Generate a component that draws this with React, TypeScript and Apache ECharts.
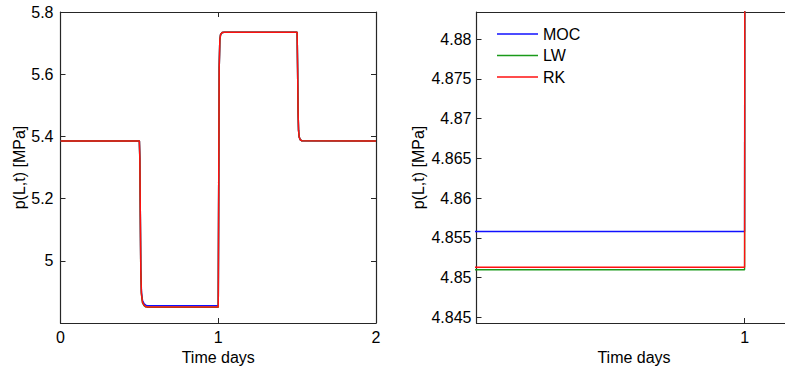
import React, { useEffect, useRef } from "react";
import * as echarts from "echarts";

// Time in days, shared by all three schemes
const time = [
  0, 0.5, 0.503, 0.506, 0.509, 0.513, 0.52, 0.53, 0.54, 0.55,
  1.0, 1.003, 1.006, 1.01, 1.015, 1.025, 1.04,
  1.5, 1.503, 1.506, 1.509, 1.513, 1.52, 1.53, 2.0,
];

// Outlet pressure p(L,t) in MPa
const moc = [
  5.385, 5.385, 5.33, 5.15, 4.975, 4.9, 4.872, 4.862, 4.8575, 4.8558,
  4.8558, 5.25, 5.62, 5.71, 5.728, 5.734, 5.735,
  5.735, 5.62, 5.48, 5.42, 5.398, 5.389, 5.386, 5.385,
];
const lw = [
  5.385, 5.385, 5.32, 5.14, 4.968, 4.893, 4.865, 4.856, 4.852, 4.851,
  4.851, 5.25, 5.62, 5.71, 5.728, 5.734, 5.735,
  5.735, 5.62, 5.48, 5.42, 5.398, 5.389, 5.386, 5.385,
];
const rk = [
  5.385, 5.385, 5.33, 5.15, 4.97, 4.894, 4.866, 4.857, 4.8525, 4.8513,
  4.8513, 5.25, 5.62, 5.71, 5.728, 5.734, 5.735,
  5.735, 5.62, 5.48, 5.42, 5.398, 5.389, 5.386, 5.385,
];

const seriesNames = ["MOC", "LW", "RK"];
const seriesColors = ["#1010ff", "#1a9a1a", "#ff1010"];
const seriesValues = [moc, lw, rk];

// Tick values of the zoomed panel
const zoomYTicks = [4.845, 4.85, 4.855, 4.86, 4.865, 4.87, 4.875, 4.88];
const zoomXTicks = [1];

const FONT = "'Liberation Sans', Arial, Helvetica, sans-serif";
const AXIS_COLOR = "#262626";

const axisLine = { show: true, onZero: false, lineStyle: { color: AXIS_COLOR, width: 1.2 } };
const tickIn = { show: true, inside: true, length: 5, lineStyle: { color: AXIS_COLOR, width: 1 } };
const labelStyle = { color: "#000", fontSize: 16, fontFamily: FONT };
const nameStyle = { color: "#000", fontSize: 16, fontFamily: FONT };

export default function App() {
  const ref = useRef<HTMLDivElement>(null);

  useEffect(() => {
    if (!ref.current) return;
    const chart = echarts.init(ref.current, undefined, { renderer: "svg" });

    const series: any[] = [];
    [0, 1].forEach((g) => {
      seriesValues.forEach((vals, k) => {
        series.push({
          name: seriesNames[k],
          type: "line",
          xAxisIndex: g * 2,
          yAxisIndex: g * 2,
          data: time.map((t, i) => [t, vals[i]]),
          showSymbol: false,
          symbol: "none",
          color: seriesColors[k],
          lineStyle: { width: g === 0 ? 1.5 : 1.4, color: seriesColors[k] },
          clip: true,
          z: 2 + k,
        });
      });
    });

    const option: any = {
      animation: false,
      textStyle: { fontFamily: FONT },
      grid: [
        { left: 60.5, top: 12, width: 315.5, height: 311, outerBoundsMode: "none" },
        { left: 476.5, top: 12, width: 315, height: 311, outerBoundsMode: "none" },
      ],
      legend: {
        data: seriesNames,
        orient: "vertical",
        left: 492,
        top: 21,
        icon: "rect",
        itemWidth: 41,
        itemHeight: 1.5,
        itemGap: 5.5,
        textStyle: { color: "#000", fontSize: 16, fontFamily: FONT },
        selectedMode: false,
      },
      xAxis: [
        {
          gridIndex: 0,
          type: "value",
          position: "bottom",
          min: 0,
          max: 2,
          interval: 1,
          name: "Time days",
          nameLocation: "middle",
          nameGap: 22,
          nameTextStyle: nameStyle,
          axisLine,
          axisTick: tickIn,
          axisLabel: { ...labelStyle, margin: 6 },
          splitLine: { show: false },
        },
        {
          gridIndex: 0,
          type: "value",
          position: "top",
          min: 0,
          max: 2,
          interval: 1,
          axisLine,
          axisTick: tickIn,
          axisLabel: { show: false },
          splitLine: { show: false },
        },
        {
          gridIndex: 1,
          type: "value",
          position: "bottom",
          min: 0.6,
          max: 1.07,
          name: "Time days",
          nameLocation: "middle",
          nameGap: 22,
          nameTextStyle: nameStyle,
          axisLine,
          axisTick: { ...tickIn, customValues: zoomXTicks },
          axisLabel: { ...labelStyle, margin: 6, customValues: zoomXTicks },
          splitLine: { show: false },
        },
        {
          gridIndex: 1,
          type: "value",
          position: "top",
          min: 0.6,
          max: 1.07,
          axisLine,
          axisTick: { ...tickIn, customValues: zoomXTicks },
          axisLabel: { show: false },
          splitLine: { show: false },
        },
      ],
      yAxis: [
        {
          gridIndex: 0,
          type: "value",
          position: "left",
          min: 4.8,
          max: 5.8,
          interval: 0.2,
          name: "p(L,t) [MPa]",
          nameLocation: "middle",
          nameRotate: 90,
          nameGap: 33,
          nameTextStyle: nameStyle,
          axisLine,
          axisTick: tickIn,
          axisLabel: { ...labelStyle, margin: 7, showMinLabel: false },
          splitLine: { show: false },
        },
        {
          gridIndex: 0,
          type: "value",
          position: "right",
          min: 4.8,
          max: 5.8,
          interval: 0.2,
          axisLine,
          axisTick: tickIn,
          axisLabel: { show: false },
          splitLine: { show: false },
        },
        {
          gridIndex: 1,
          type: "value",
          position: "left",
          min: 4.8443,
          max: 4.8834,
          name: "p(L,t) [MPa]",
          nameLocation: "middle",
          nameRotate: 90,
          nameGap: 50,
          nameTextStyle: nameStyle,
          axisLine,
          axisTick: { ...tickIn, customValues: zoomYTicks },
          axisLabel: {
            ...labelStyle,
            margin: 5,
            customValues: zoomYTicks,
            formatter: (v: number) => String(Number(v.toFixed(3))),
          },
          splitLine: { show: false },
        },
      ],
      series,
    };

    chart.setOption(option);
    return () => chart.dispose();
  }, []);

  return (
    <div
      ref={ref}
      style={{ position: "absolute", left: 0, top: 0, width: 785, height: 367, background: "#fff" }}
    />
  );
}
